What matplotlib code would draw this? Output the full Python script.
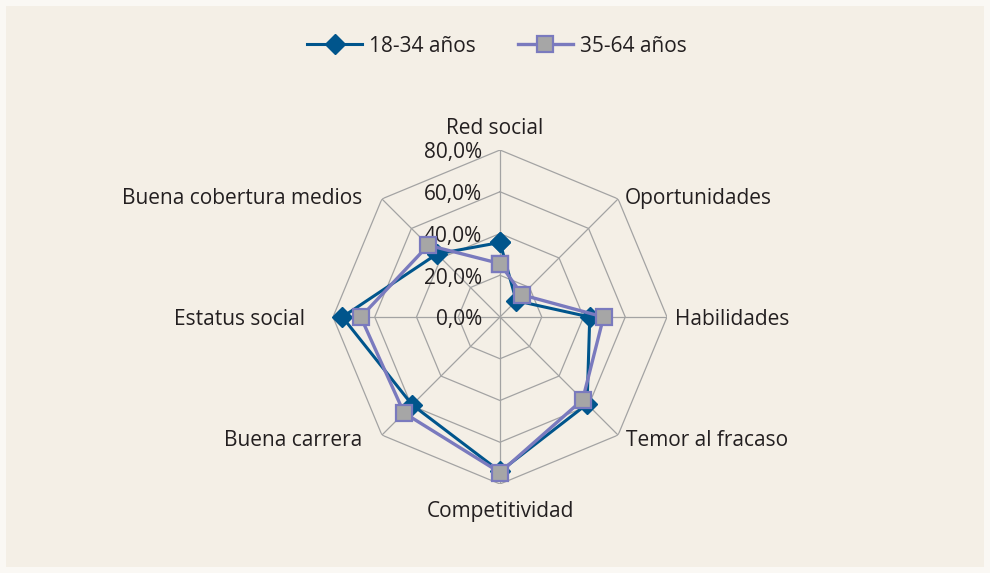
import numpy as np
import matplotlib.pyplot as plt
from matplotlib.patches import Rectangle

plt.rcParams['font.family'] = ['Open Sans', 'DejaVu Sans']

categorias = ['Red social', 'Oportunidades', 'Habilidades', 'Temor al fracaso',
              'Competitividad', 'Buena carrera', 'Estatus social',
              'Buena cobertura medios']
jovenes = [0.357, 0.11, 0.43, 0.59, 0.74, 0.595, 0.755, 0.427]   # 18-34 años
adultos = [0.256, 0.15, 0.496, 0.56, 0.745, 0.65, 0.667, 0.486]  # 35-64 años
niveles = [0.0, 0.2, 0.4, 0.6, 0.8]
etiquetas_niveles = ['0,0%', '20,0%', '40,0%', '60,0%', '80,0%']

texto = '#231F20'
fondo = '#F4EFE6'
fs = 15

fig = plt.figure(figsize=(9.9, 5.73), dpi=100, facecolor='#FAF8F4')
fig.patches.append(Rectangle((6 / 990, 6 / 573), 978 / 990, 561 / 573,
                             transform=fig.transFigure, facecolor=fondo,
                             edgecolor='none', zorder=-10))

# centro (500, 317) px, radio 167 px para 80%
cx, cy, r = 500 / 990, 1 - 317 / 573, 167
ax = fig.add_axes([cx - r / 990, cy - r / 573, 2 * r / 990, 2 * r / 573],
                  projection='polar')
ax.set_facecolor('none')
ax.set_theta_zero_location('N')
ax.set_theta_direction(-1)
ax.set_ylim(0, 0.8)
ax.grid(False)
ax.spines['polar'].set_visible(False)
ax.set_xticks([])
ax.set_yticks([])

n = len(categorias)
ang = np.linspace(0, 2 * np.pi, n, endpoint=False)
ang_c = np.append(ang, ang[0])

# telaraña octogonal
for nv in niveles[1:]:
    ax.plot(ang_c, [nv] * (n + 1), color='#A3A3A3', lw=0.9, zorder=1)
for a in ang:
    ax.plot([a, a], [0, 0.8], color='#A3A3A3', lw=0.9, zorder=1)

l1, = ax.plot(ang_c, jovenes + jovenes[:1], color='#00558C', lw=2.2,
              marker='D', markersize=10, markerfacecolor='#00558C',
              markeredgecolor='#00558C', zorder=3, clip_on=False,
              label='18-34 años')
l2, = ax.plot(ang_c, adultos + adultos[:1], color='#7A7ABE', lw=2.4,
              marker='s', markersize=11, markerfacecolor='#A6A6A6',
              markeredgecolor='#7A7ABE', markeredgewidth=1.6, zorder=4,
              clip_on=False, label='35-64 años')

# etiquetas de escala
for nv, et in zip(niveles, etiquetas_niveles):
    ax.annotate(et, xy=(0, nv), xytext=(-13, -2), textcoords='offset points',
                ha='right', va='center', fontsize=fs, color=texto, zorder=2)

# etiquetas de categorías (desplazamiento en puntos)
pos = [(-4, 8, 'center', 'bottom'), (5, 0, 'left', 'center'),
       (6, -2, 'left', 'center'), (6, -4, 'left', 'center'),
       (0, -12, 'center', 'top'), (-14, -4, 'right', 'center'),
       (-20, -2, 'right', 'center'), (-14, 0, 'right', 'center')]
for a, cat, (dx, dy, ha, va) in zip(ang, categorias, pos):
    ax.annotate(cat, xy=(a, 0.8), xytext=(dx, dy), textcoords='offset points',
                ha=ha, va=va, fontsize=fs, color=texto, annotation_clip=False)

fig.legend(handles=[l1, l2], loc='center', bbox_to_anchor=(0.502, 1 - 46 / 573),
           ncol=2, frameon=False, fontsize=fs, handlelength=2.65,
           columnspacing=2.0, handletextpad=0.35, labelcolor=texto)

fig.savefig('out.png', dpi=100, facecolor=fig.get_facecolor())
